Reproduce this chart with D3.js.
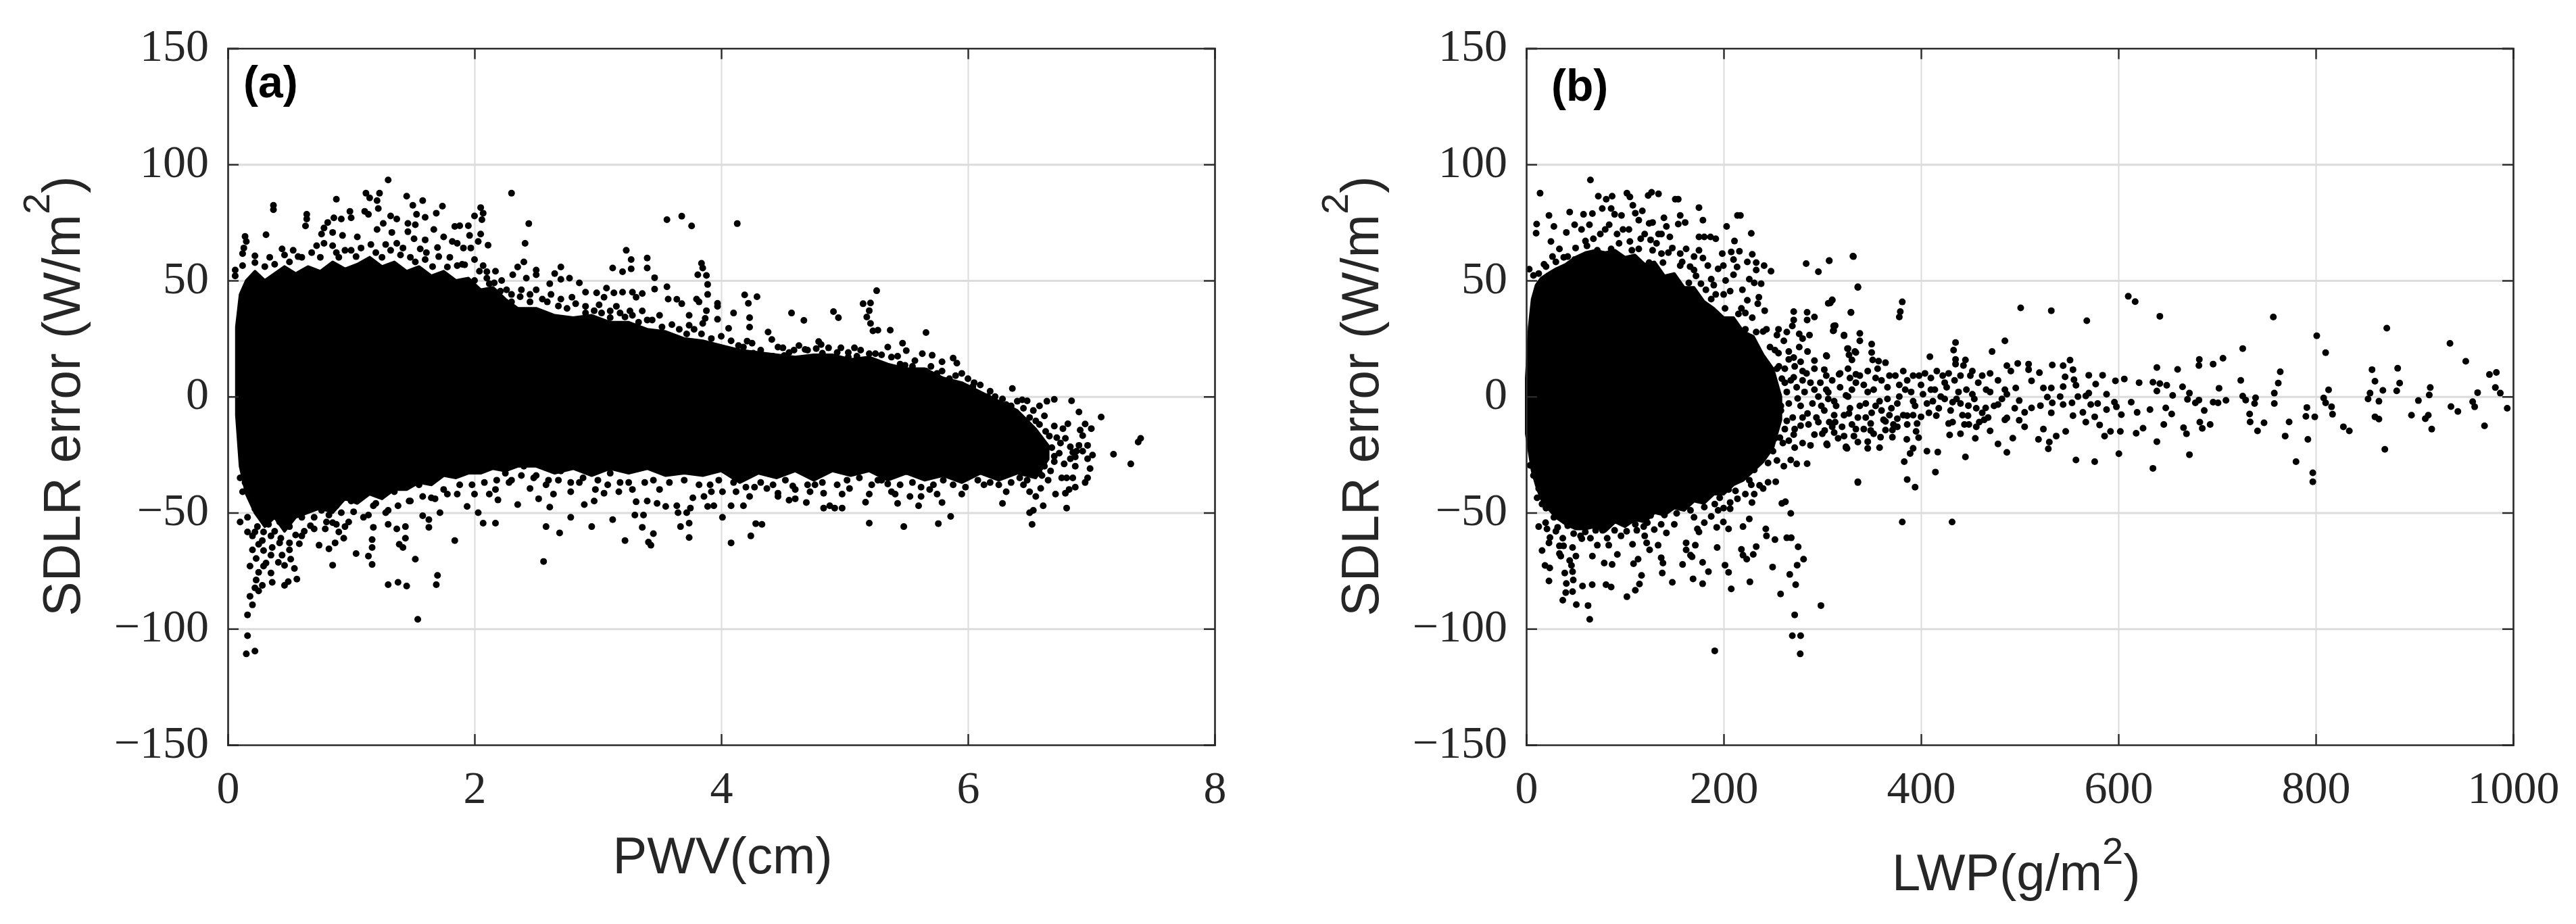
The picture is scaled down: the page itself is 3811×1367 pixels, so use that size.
<!DOCTYPE html>
<html>
<head>
<meta charset="utf-8">
<script src="https://cdn.jsdelivr.net/npm/d3@7"></script>
<style>
  body { margin: 0; background: #fff; }
  svg { display: block; }
</style>
</head>
<body>
<div id="chart"></div>
<script>
// tick labels
const errTicks = [-150, -100, -50, 0, 50, 100, 150];
const pwvTicks = [0, 2, 4, 6, 8];
const lwpTicks = [0, 200, 400, 600, 800, 1000];

// solid black part of each cloud, too dense to read single dots: x, top, bottom
const pwvCoreX = [0.07, 0.1, 0.15, 0.22, 0.3, 0.38, 0.46, 0.55, 0.65, 0.75, 0.85, 0.95, 1.05, 1.15, 1.25, 1.35, 1.45, 1.55, 1.65, 1.75, 1.85, 1.95, 2.05, 2.15, 2.25, 2.35, 2.5, 2.65, 2.8, 2.95, 3.1, 3.25, 3.4, 3.55, 3.7, 3.85, 4, 4.15, 4.3, 4.45, 4.6, 4.75, 4.9, 5.05, 5.2, 5.35, 5.5, 5.65, 5.8, 5.95, 6.1, 6.25, 6.4, 6.55, 6.65];
const pwvCoreHigh = [30, 44, 50, 54, 50, 53, 56, 53, 56, 54, 58, 55, 57, 60, 56, 58, 54, 56, 52, 54, 50, 51, 46, 47, 42, 38, 38, 35, 34, 35, 32, 32, 29, 28, 25, 24, 22, 20, 19, 18, 17, 18, 18, 16, 17, 14, 12, 12, 8, 6, 2, -2, -6, -14, -21];
const pwvCoreLow = [-8, -30, -42, -50, -56, -52, -58, -52, -50, -48, -50, -44, -46, -42, -44, -40, -40, -37, -38, -34, -35, -33, -33, -31, -32, -30, -30, -33, -31, -34, -31, -33, -31, -34, -33, -34, -32, -37, -33, -35, -32, -36, -32, -34, -32, -36, -33, -36, -34, -37, -33, -36, -33, -35, -27];

const lwpCoreX = [0, 3, 6, 10, 15, 22, 30, 40, 50, 60, 70, 80, 90, 100, 110, 120, 130, 140, 150, 160, 170, 180, 190, 200, 210, 220, 230, 240, 250, 258];
const lwpCoreHigh = [8, 30, 42, 48, 51, 53, 55, 57, 60, 62, 63, 62, 63, 60, 61, 57, 58, 52, 53, 47, 47, 41, 38, 34, 34, 28, 26, 18, 12, 0];
const lwpCoreLow = [-16, -24, -32, -38, -44, -48, -52, -55, -57, -57, -56, -58, -54, -56, -53, -54, -50, -51, -48, -49, -45, -46, -42, -42, -38, -36, -32, -28, -22, -10];

// single dots
const pwvUpper = [[1.3,93.3],[2.3,87.6],[3.56,76.2],[3.68,77.7],[3.76,73.5],[4.13,74.5],[0.37,82.4],[0.37,80.5],[0.88,85],[1.12,87.6],[1.15,85.6],[1.23,87.6],[1.21,84.4],[1.22,81],[1.11,79.8],[1.14,78.5],[1.45,86.3],[1.58,84.4],[1.5,82.4],[1.53,78.5],[1.6,77.2],[1.74,82],[1.69,79],[2.05,81.4],[2.07,79],[2,77.8],[2.06,76.2],[2.44,74.5],[2.41,66],[0.64,78.5],[0.64,76.5],[0.63,73.5],[0.31,69.7],[0.14,69],[0.15,66.8],[0.13,64],[0.12,61.6],[0.22,60.6],[0.22,57.7],[0.12,56.4],[0.06,54.5],[0.06,52],[0.44,63.6],[0.46,61],[0.53,63],[0.57,60.3],[0.38,57],[0.78,72.6],[0.81,75],[0.86,77],[0.92,76.5],[0.99,79.8],[1,77],[0.76,70],[0.85,70.7],[0.93,69.4],[1.05,68.8],[0.78,66],[0.85,65],[0.88,62],[0.95,63],[1.04,60.3],[1.16,65.5],[1.21,72],[1.26,74.6],[1.32,77.8],[1.37,76.5],[1.33,70.7],[1.46,74.6],[1.52,74],[1.46,71],[1.51,68],[1.6,67.5],[1.67,72],[1.75,68.8],[1.84,73.3],[1.88,73.6],[1.95,73.6],[1.96,69.4],[2.05,70],[2.03,66.8],[2.11,65.2],[1.82,66.8],[1.86,66],[1.91,64],[1.97,64],[1.7,64.2],[1.71,60.3],[1.56,63.6],[1.61,62],[1.42,64],[1.37,66],[1.28,65.5],[1.32,63],[2,59],[2.07,56.4],[2.17,54],[2.1,53.8],[1.78,55.8],[1.86,56.4],[1.92,56.8],[2.35,55.8],[2.4,58],[2.31,52.5],[2.5,54.5],[2.5,52.5],[2.7,55.8],[2.65,53],[2.42,51],[2.7,50.5],[2.77,51],[2.85,49],[2.9,45],[2.61,48.6],[2.5,46],[2.38,46],[2.22,50],[2.12,48.6],[2.21,45.4],[3.23,63],[3.27,59],[3.27,55],[3.12,55.4],[3.2,53.8],[3.4,59.7],[3.4,55.4],[3.46,51.2],[3.56,47.3],[3.46,46.3],[3.07,46.7],[2.99,44.7],[3.13,44.7],[3.2,45],[3.28,45],[3.36,44.4],[3.31,42.8],[3.57,42],[3.05,42.8],[2.9,38.9],[3.01,39.5],[3.15,38.9],[2.79,42.8],[2.7,42],[2.59,40.8],[2.45,40.8],[2.3,40.8],[3.36,36.9],[3.26,36.9],[3.5,35],[3.4,33],[3.22,34.3],[3.1,36.9],[3.84,57.4],[3.85,55.4],[3.81,52.5],[3.88,52.2],[3.89,48.3],[3.89,44],[3.8,42],[3.82,40.8],[3.64,41.9],[3.68,40],[3.97,40.2],[3.97,38.9],[3.88,37],[3.74,35],[4.1,36],[4.19,43.8],[4.22,40.2],[4.29,43],[4.23,34],[3.97,33.3],[3.87,33.7],[3.74,30.7],[3.85,31.5],[4.06,29.4],[4.23,29.9],[4.57,36],[4.67,32.8],[4.91,36.6],[4.95,34],[5.26,45.6],[5.15,40],[5.21,40.3],[5.2,37],[5.18,34.3],[5.21,31.5],[5.23,28.3],[5.27,28.6],[5.37,28.6],[5.66,27.6],[4.38,27.8],[4.41,24.6],[4.46,21.3],[4.21,23.9],[4.18,21.3],[4.08,19.8],[4.26,18.7],[4.59,20],[4.68,20.3],[4.79,23.7],[4.81,22.4],[4.77,20.7],[4.82,18.7],[4.72,15.5],[4.51,17.7],[4.42,17.4],[4.34,16.4],[4.94,19],[5.08,21],[5.03,17],[5.1,17.4],[5.2,18.5],[5.25,18.5],[5.35,21.3],[5.47,23],[5.5,19.8],[5.43,17.4],[5.49,13.5],[5.63,18.5],[5.57,15.5],[5.71,17.8],[5.79,15],[5.88,16.6],[5.91,14.4],[5.66,11],[5.79,11],[5.85,7.7],[6,7.7],[6.04,4.4],[6.18,2.3],[6.36,3.5],[6.44,-1.4],[6.48,-1.8],[6.64,-2],[6.7,-1.2],[6.84,-1.8],[6.58,-4],[6.31,-3.4],[6.9,-6.6],[7.08,-8.8],[6.62,-8.3],[6.55,-10.5],[6.7,-12.7],[6.81,-11.7],[6.77,-13.8],[6.95,-11.8],[7,-13.8],[6.91,-14.4],[6.93,-16.8],[6.66,-17],[6.72,-17.7],[6.79,-18],[6.9,-21],[6.97,-21],[7.4,-18],[7.38,-19.6],[7.18,-24.8],[7.01,-25.2],[7.32,-29],[6.93,-23.5],[6.83,-21.6],[6.85,-24],[6.88,-23.5],[6.74,-24.4],[6.7,-25.7],[6.62,-23.8],[6.59,-26.8],[6.97,-26.8],[6.83,-26.8],[6.67,-32]];

// the busy band around the edge of the solid part of (a)
const pwvFringe = [[0.3,56],[0.34,60],[0.5,58],[0.6,60],[0.68,62],[0.72,65],[0.75,60],[0.9,60],[1,63],[1.08,64],[1.2,62],[1.25,60],[1.4,61],[1.48,60],[1.52,58],[1.6,59],[1.66,56],[1.8,60],[1.9,57],[2.04,54],[2,50],[2.1,51],[2.16,49],[2.26,46],[2.3,44],[2.37,43],[2.45,44],[2.55,42],[2.62,44],[2.68,39],[2.75,38],[2.82,40],[2.9,36],[2.97,37],[3.03,36],[3.1,34],[3.18,36],[3.28,35],[3.33,32],[3.44,33],[3.52,30],[3.6,31],[3.66,29],[3.72,27],[3.78,29],[3.84,27],[3.92,25],[4,26],[4.08,24],[4.14,22],[4.25,23],[4.32,20],[4.5,21],[4.55,19],[4.63,22],[4.7,20],[4.87,21],[4.97,21],[5.03,19],[5.13,20],[5.3,18],[5.38,17],[5.45,14],[5.55,13],[5.7,13],[5.75,10],[5.9,9],[5.95,10],[6.05,6],[6.1,5],[6.16,0],[6.22,0],[6.28,-1],[6.35,-4],[6.4,-2],[6.45,-5],[6.5,-9],[6.53,-6],[6.58,-12],[6.63,-15],[6.6,-20],[6.68,-22],[6.7,-28],[6.75,-20],[6.78,-29],[6.62,-30],[6.58,-33],[6.52,-30],[6.48,-36],[6.42,-35],[6.35,-37],[6.25,-38],[6.18,-37],[6.08,-36],[5.98,-39],[5.88,-38],[5.8,-36],[5.72,-38],[5.62,-39],[5.55,-37],[5.45,-38],[5.38,-41],[5.3,-36],[5.22,-38],[5.12,-35],[5.02,-36],[4.94,-38],[4.82,-37],[4.72,-41],[4.6,-40],[4.52,-36],[4.42,-38],[4.32,-37],[4.2,-39],[4.1,-37],[3.98,-36],[3.92,-41],[3.82,-38],[3.7,-36],[3.58,-37],[3.5,-40],[3.38,-37],[3.28,-40],[3.18,-37],[3.08,-38],[2.98,-40],[2.88,-35],[2.78,-37],[2.68,-36],[2.58,-38],[2.48,-35],[2.38,-34],[2.28,-37],[2.18,-36],[2.08,-37],[1.98,-38],[1.88,-38],[1.78,-42],[1.68,-44],[1.58,-43],[1.48,-45],[1.38,-47],[1.28,-50],[1.18,-47],[1.1,-52],[0.98,-54],[0.88,-55],[0.8,-54],[0.7,-57],[0.6,-60],[0.5,-66],[0.42,-63],[0.35,-60],[0.28,-62],[0.24,-56],[0.2,-60],[0.16,-52],[0.12,-41]];

const pwvLower = [[0.15,-110.8],[0.22,-109.6],[0.16,-103],[0.16,-94],[0.2,-89.7],[0.18,-86],[1.54,-95.9],[1.69,-81],[1.7,-77],[1.45,-81.6],[1.38,-80],[1.3,-81],[0.56,-78.6],[0.49,-79.7],[0.46,-81.3],[0.36,-80],[0.28,-81.3],[0.25,-83.7],[0.22,-82.4],[0.23,-79],[0.25,-75.7],[0.35,-76],[0.29,-73],[0.18,-73],[0.23,-69.7],[0.31,-71.7],[0.41,-71.4],[0.46,-72.7],[0.54,-74],[0.51,-70],[0.44,-68.3],[0.35,-68.3],[0.29,-66.3],[0.2,-66],[0.25,-63.6],[0.36,-65],[0.85,-72.6],[1.04,-67.6],[1.14,-68.7],[1.17,-72.3],[1.52,-70],[2.56,-71],[1.84,-62],[1.42,-65],[1.39,-63.6],[1.44,-61],[1.17,-65],[1.17,-61.6],[0.82,-65.6],[0.74,-64],[0.87,-63],[0.94,-61],[0.58,-63.4],[0.5,-63],[0.1,-54],[0.16,-58.3],[0.22,-58.3],[0.29,-58.3],[0.43,-61],[0.55,-59.6],[0.67,-55.6],[0.79,-57],[0.9,-58.3],[0.95,-56],[0.85,-54.3],[1.18,-56.3],[1.3,-55],[1.37,-57],[1.44,-56],[1.63,-56.3],[1.63,-53],[1.58,-51.3],[1.72,-50],[2.07,-54.5],[2.17,-54.5],[2.03,-50],[1.94,-47.3],[2.58,-56],[2.69,-58.7],[2.78,-52],[2.95,-56],[3.12,-53],[3.22,-62],[3.36,-56.3],[3.45,-59],[3.41,-62.7],[3.43,-64],[3.3,-51],[3.37,-51],[2.35,-46.5],[2.61,-47.6],[2.19,-44.5],[2.12,-42],[2,-42],[1.86,-42],[2.52,-44],[2.89,-46.5],[2.97,-45],[3.31,-45.3],[3.4,-45],[3.48,-46],[3.55,-47.3],[2.17,-40],[2.45,-39.6],[2.64,-42],[2.78,-41],[3.05,-41.6],[3.17,-41],[1.3,-49],[1.14,-51],[1.02,-49.6],[0.92,-50],[0.76,-49],[0.6,-52],[0.46,-50],[0.29,-51],[0.22,-48.3],[0.1,-35],[0.14,-37],[1.47,-45],[1.65,-43.6],[1.75,-40],[0.33,-55],[0.38,-58],[0.42,-54],[0.5,-56],[0.55,-50],[0.62,-58],[0.7,-52],[0.75,-46],[0.82,-51],[0.88,-47],[1,-45],[1.08,-43],[1.2,-46],[1.25,-42],[1.35,-41],[1.55,-38],[2.25,-33],[2.3,-36],[2.4,-30],[2.5,-34],[2.6,-36],[2.7,-32],[2.85,-37],[2.9,-31],[3,-36],[3.1,-33],[3.25,-37],[3.3,-31],[3.45,-36],[3.55,-33],[6.87,-26],[6.87,-30],[6.99,-31],[6.97,-35],[6.95,-37],[6.85,-35],[6.76,-35],[6.8,-35],[6.87,-39],[6.82,-40],[6.79,-41.6],[6.71,-42],[6.8,-48],[6.61,-47],[6.52,-55],[6.5,-50],[6.53,-49],[6.55,-43],[6.5,-41],[6.31,-41],[6.28,-46],[6.65,-36],[6.59,-39.5],[6.6,-34],[6.45,-38],[6.13,-38],[5.95,-42],[5.86,-51.6],[5.76,-54.7],[5.79,-45.6],[5.75,-42],[5.69,-40],[5.62,-43],[5.6,-47],[5.48,-56],[5.2,-54.5],[5.43,-46],[5.17,-45.5],[5.2,-42],[5.53,-43],[5.41,-42],[5.27,-36],[5.35,-37.6],[5.04,-39.6],[4.98,-42],[4.98,-48],[4.92,-48],[4.88,-47],[4.83,-48],[4.83,-41.6],[4.69,-45.6],[4.6,-44],[4.55,-44.6],[4.46,-43],[4.46,-41.6],[4.7,-38],[4.76,-38],[4.58,-38.5],[4.33,-55],[4.28,-54.7],[4.24,-60],[4.08,-63],[4.01,-52],[4.18,-47],[4.08,-47],[3.94,-47],[3.89,-47.3],[4.23,-43],[4.12,-41],[4.01,-41],[4.37,-39.6],[4.27,-39],[3.74,-60.7],[3.74,-54.5],[3.67,-56],[3.75,-48],[3.65,-50],[3.72,-50],[3.77,-43.6],[3.64,-47],[3.91,-38],[3.86,-43]];

const lwpUpper = [[65,93.3],[14,87.6],[73,86.3],[81,85],[87,86.3],[102,87.6],[105,86],[108,82.4],[123.5,86.6],[127,88],[134,87.3],[151,85],[154,85],[175,81.4],[179,76],[214,78],[217,78],[203,73.3],[228,70.3],[211,67],[23,78],[44,79.5],[10.5,74.3],[10,70.4],[28,73.3],[25,66.8],[40.6,70.7],[49,74],[58,78.5],[67,78.8],[77,81],[89.5,78.5],[86,81],[96.5,78],[110.5,79],[117.6,80],[114,76],[124.5,74.6],[128,75],[139.5,77],[142,73.3],[145.5,68.8],[137,70],[156,78],[154,74.3],[161,75],[175,68.8],[180.4,68.8],[186.7,68.8],[192,68],[126,67.5],[61.5,64.9],[33.6,63.6],[26.6,60.3],[18,57],[3,54.9],[7.3,52.2],[12.6,53],[42,60.3],[49,59],[72,63],[86,63.6],[105,66.8],[107,63],[114,63.6],[128,63],[137,61.6],[162,63.6],[156,61.6],[175,63],[170,60.3],[179,59.7],[198.6,61.6],[207.7,62.3],[216,62.6],[229,61.3],[210,59],[224,58],[233,57.7],[241,56.4],[248,54],[233,54.5],[213.6,55.8],[199.7,56.4],[194.4,55],[184,56.4],[170,54.5],[156,56.4],[138.5,57.7],[124.5,57.7],[210,52.5],[226,50.6],[238,48.6],[231,49],[202,50],[187.4,50.6],[177,48.6],[164.7,49],[149,50],[219,46],[206.6,45.4],[224,41.5],[235.7,42.8],[234.6,40],[241.6,37],[215,35.6],[222,36],[201.4,38],[187.4,42],[170,40.8],[283.6,57.3],[296,53.8],[307,58.6],[331.5,60.3],[336,47.3],[310,41.5],[306,40.2],[329,36.3],[284.6,36.3],[292,34.3],[271,36.6],[271,33],[284.6,33],[269.6,30.4],[311.5,30.4],[311.5,28.5],[287,26.5],[322,26.5],[276.6,27],[264,27.8],[255.6,29],[243.4,29],[233,27.8],[222,29],[212,29],[201.4,29],[254,26.5],[280,25],[325.5,20.7],[333,19.4],[285,19.4],[271,16.8],[304.5,17.4],[292,15.5],[302,11.6],[261,24],[247,21.3],[255.6,18.7],[266,19.4],[276.6,21.3],[254,12],[317,9.6],[310,7],[334,9.6],[280,7],[292,3],[259,7.7],[271,8.3],[306,1.8],[324,0.5],[275,-0.8],[255.6,0.5],[299,-4],[285,-7.3],[313,-11],[327,-7.3],[278,-12.5],[264,-10.5],[304.5,-20.3],[324,-21.6],[292,-16.4],[271,-16.4],[257,-17.7],[243.4,-13.8],[20,56],[30,58],[38,60],[50,64],[60,67],[68,68],[75,70],[80,72],[92,70],[98,72],[116,68],[132,66],[144,62],[158,58],[172,52],[182,46],[192,44],[218,38],[229,34],[240,28],[252,20],[256,13],[262,6],[258,-4],[250,-6],[244,-16],[56,72],[64,74],[84,74],[94,66],[104,72],[120,70],[134,70],[148,64],[166,56],[190,48],[200,44]];

const lwpLower = [[191,-109.5],[277.6,-110.8],[269.6,-103],[278,-103],[272,-94],[298.6,-90],[257.7,-85],[273,-81],[267,-76.6],[274.5,-72.6],[281,-70],[275.5,-64.7],[268,-50.3],[264,-60.8],[268.5,-60.8],[252,-61.6],[249.6,-73.4],[242.7,-57],[243.4,-60],[226,-52.7],[219.6,-56],[218,-65.8],[233,-64.6],[230,-68],[219.6,-68.3],[223.4,-70],[226.6,-79.8],[207.7,-82.8],[205,-75.7],[201.4,-72.6],[193.4,-65],[193,-56.3],[199.7,-54],[205,-57],[184.6,-75.4],[178.7,-80.6],[178.7,-71.4],[169,-78.5],[158.4,-72.3],[168,-69],[166.4,-68.3],[162,-66],[162,-63],[171.3,-64],[148,-80],[137.8,-76],[138.5,-71.7],[136.7,-69.4],[133.6,-64],[125,-66],[122,-63],[113.3,-70],[108.7,-72],[107.7,-63.6],[116.8,-77],[114.7,-80.7],[110.5,-83.4],[102,-86.2],[92.3,-68],[87,-72.3],[79,-71.7],[83.6,-64],[86,-82],[80.8,-81],[66.8,-81],[67,-68.7],[62.6,-90],[64.3,-95.9],[50.7,-89.6],[57,-81.6],[46.9,-84],[40,-84.4],[37,-87.7],[47.6,-79],[40.6,-80.5],[39,-76],[46.9,-75.4],[45.8,-72.7],[44,-70.6],[50.3,-68.7],[23,-79.4],[23.8,-73.8],[19,-72.7],[16,-66.3],[33.6,-67.6],[35,-68.7],[33.6,-64.3],[37.8,-64.3],[46.9,-65],[23,-63],[24,-60.7],[12.6,-56],[19.6,-54.3],[21,-57],[37,-61],[56.3,-61.2],[65,-61],[72,-64],[31.8,-56.3],[42,-55.6],[59.8,-58.3],[70.3,-57.6],[77.3,-57.6],[89.5,-57.6],[101.7,-58],[101.7,-53.6],[112,-57.6],[110.5,-55],[119,-56],[122.7,-54.3],[129.7,-57.3],[136.7,-55],[142,-58.7],[152.4,-50.3],[140,-51],[126,-51.2],[173.4,-57],[175,-58.3],[180.4,-54.3],[187.4,-51.6],[194.4,-49],[206.6,-45.6],[206.6,-48.3],[228.7,-45.6],[222,-42],[231,-42],[259,-46],[262.6,-45.3],[336,-36.7],[252.8,-36.7],[236.4,-38.2],[245,-36.9],[240,-39.6],[217,-35.6],[212,-40.6],[284.6,-28.9],[274,-29],[268,-27.3],[261,-30],[254,-27.5],[245,-28.6],[250,-23.5],[231,-31.6],[304.5,-20.6],[324,-22],[12.6,-39.6],[11,-43.6],[16,-46.3],[7.3,-34],[3.8,-29.6],[180.4,-47.6],[166.4,-49],[147,-47.6],[154,-47],[138.5,-47],[191,-46.3],[163,-42],[182,-43],[196,-43.6],[205,-40],[216,-30],[226,-36],[238,-26],[246,-20],[252,-18],[96,-60],[82,-61],[55,-60],[48,-59],[28,-52],[20,-48],[30,-58],[120,-60],[150,-55],[170,-52],[200,-48],[214,-44],[228,-38]];

const lwpTail = [[331,60.5],[307,58.5],[336,47],[381,40.8],[379,36.6],[378,34.3],[310,41.7],[308,40.3],[329,36.2],[313,30.6],[311,28.3],[322,26.2],[338,27.2],[338,24],[350,22.6],[326,20.7],[334,19],[350,19],[304,17.7],[327,18],[330,15.8],[351,15.8],[357,15.3],[364,14.6],[501,38.2],[532,37],[568,32.7],[610,43.2],[617,40.9],[642,34.6],[757,34.3],[801,26.2],[872,29.5],[936,22.9],[952,15.2],[810,18.9],[726,20.7],[706,16.5],[696,14],[682,16],[681.6,13.4],[660,11.7],[639,12.5],[435,23.3],[433,20],[472,19.4],[485,24],[409,17.2],[435,16],[445,15.8],[443,13.4],[435,14],[498,14.3],[509,14],[509,11.6],[487,13.3],[491,11],[533,13.6],[544,13.3],[551,15.7],[554,11.6],[520,10.3],[570,9.2],[584,9.2],[546,8.5],[764,10.7],[857,11.6],[883,12.2],[976,9.5],[983,10.4],[724,7],[762,5.8],[860,6.6],[885,5.8],[916,3.9],[982,3.9],[813,2.9],[868,2.7],[882,2.5],[987,1.5],[964,1.7],[915,0.7],[855,1.5],[853,-1],[864,-2],[758,1.5],[726,0.2],[739,-0.5],[729,-1.5],[758,-3],[738,-3],[808,-0.6],[810,-2.7],[816,-4.4],[904,-1.7],[959,-2.2],[961,-4.4],[994,-5],[937,-4.3],[944,-6.4],[709,-1.6],[701,-2.7],[696,-2.4],[681.6,-1.5],[678,-2.7],[670,-1.2],[672,1.5],[665,4.2],[702,3.6],[655,0.5],[649,4.9],[639,2.4],[642,5.6],[635,6.2],[621,6],[606,7.6],[597,6.8],[577,5.4],[555,7.3],[557,4.9],[544,4.3],[532,3.7],[524,3.7],[512,6.8],[588,1],[596,-2.4],[598,-4.4],[613,-2.4],[570,1.5],[567,0.3],[559,0],[541,0],[528,-0.2],[499.5,-1.7],[487,1],[485,3],[496,3.7],[579,-3],[572,-3.4],[553,-2.7],[544,-3.4],[533,-2.7],[521,-3.9],[512,-4.9],[495,-5],[588,-5.6],[564,-6.8],[532,-7],[505,-6.8],[478,-3.4],[465.5,-4.9],[448,-3.9],[432,-2.4],[632,-5.6],[619,-6.8],[603,-7.8],[648,-4.9],[654,-7.5],[687,-6],[733,-7.5],[791,-4.7],[790,-8.5],[799,-8.7],[817,-7.6],[860,-8.7],[864,-9.7],[897,-8],[914,-8],[911,-9.5],[733.5,-10.9],[747.6,-11.3],[773,-10.9],[828,-13],[834,-14.8],[917.5,-14],[971,-12.6],[741,-14.8],[769,-17],[792,-18.4],[646,-12],[666,-13.4],[669,-16],[682.5,-11],[693,-12],[685,-13.7],[625,-13.6],[618,-15.8],[602,-15],[592,-15],[586,-17],[581,-12.2],[576,-8.7],[567,-11],[554,-8.2],[546.6,-15],[537,-17],[524,-14],[519,-18.4],[530,-19.6],[529,-22.5],[493,-17.9],[505,-13],[499.5,-10.2],[487,-9.2],[485,-10],[470,-14.8],[478,-20.4],[487,-24],[455,-18],[440,-16],[429,-16.5],[428,-11.6],[445,-26],[406,-23.5],[417,-23.9],[414.6,-32.5],[392,-22.3],[389,-24.5],[383,-28],[386,-35.7],[394,-39],[336,-37],[381,-54],[431.5,-54],[557,-27.3],[576,-28],[600.5,-24.6],[639,-19.4],[635,-30.9],[672,-25],[780,-28],[797,-32.8],[797,-36.7],[870,-22.7],[358,-22],[346,-22.3],[336,-19.6],[325,-22.3],[305,-20.9],[385.6,-18.4],[397.6,-17.7],[395,-15],[400,-8.7],[371,-17.5],[359,-17.5],[346,-19.4],[322,-17],[364,-14.4],[371,-14.4],[349,-14.6],[334,-14],[307,-11],[312,-15.5],[302.4,-14.6],[349,-11.6],[364,-10.7],[376,-9.5],[386,-8.2],[396,-11.6],[415.5,-8.2],[447.6,-8.2],[464,-10],[448.5,-12],[459,-11]];

// thick knot of dots in (b) between 255 and 480, where they merge
const lwpKnot = [[258,-6],[262,-14],[266,-3],[270,-9],[274,4],[278,-4],[282,2],[286,-12],[290,-3],[294,-9],[298,6],[302,-6],[306,-1],[310,-13],[314,-4],[318,4],[322,-8],[326,0],[330,-12],[334,6],[338,-4],[342,-14],[346,2],[350,-7],[354,8],[358,-2],[362,-10],[366,4],[370,-5],[374,9],[378,0],[382,-8],[386,7],[390,2],[394,-4],[398,9],[402,1],[406,-3],[410,8],[414,3],[418,-5],[422,9],[426,4],[430,-6],[434,7],[438,2],[442,-8],[446,3],[450,9],[454,-1],[458,6],[462,-7],[466,3],[470,10],[474,-4],[478,7],[482,-1],[318,10],[326,12],[338,9],[346,11],[356,12],[368,9],[382,11],[392,9],[404,10],[416,11],[428,10],[440,9],[452,11],[462,9],[304,9],[292,12],[280,11],[268,7],[312,-8],[328,-5],[344,-9],[360,-6],[376,-3],[392,-2],[408,-7],[424,-1],[440,-3],[456,-5],[300,-16],[316,-18],[332,-17],[352,-16],[372,-12],[386,-12],[330,3],[342,5],[354,-4],[366,-1],[378,5],[410,3],[420,0],[436,-1],[452,1],[470,2],[262,12],[266,16],[272,13],[278,15],[284,10],[260,-20],[266,-19],[272,-22],[280,-20],[288,-21],[296,-11],[264,2],[272,-14],[280,-9],[288,6],[296,0],[304,3],[312,-2],[320,-13],[328,8],[336,-9],[344,-3],[352,3],[360,7],[368,-8],[376,-13],[384,3],[392,-8],[400,5],[412,-2],[424,6],[432,-11],[444,-12],[456,-13],[468,-9]];

const margin = {top: 71.5, bottom: 1102};
const pwvRange = [337, 1797];
const lwpRange = [2258, 3718];

const svg = d3.select("#chart").append("svg")
  .attr("width", 3811)
  .attr("height", 1367)
  .style("background", "#fff");

const y = d3.scaleLinear().domain([-150, 150]).range([margin.bottom, margin.top]);
const xPwv = d3.scaleLinear().domain([0, 8]).range(pwvRange);
const xLwp = d3.scaleLinear().domain([0, 1000]).range(lwpRange);

function drawPanel(x, xTicks, coreX, coreHigh, coreLow, dotSets) {
  const [left, right] = x.range();
  const g = svg.append("g");
  const h = margin.bottom - margin.top;
  const w = right - left;

  // grid
  const gridX = g.append("g").attr("transform", `translate(0,${margin.bottom})`)
    .call(d3.axisBottom(x).tickValues(xTicks.slice(1, -1)).tickSize(-h).tickFormat(""));
  const gridY = g.append("g").attr("transform", `translate(${left},0)`)
    .call(d3.axisLeft(y).tickValues(errTicks.slice(1, -1)).tickSize(-w).tickFormat(""));
  [gridX, gridY].forEach(a => {
    a.select(".domain").remove();
    a.selectAll("line").attr("stroke", "#dcdcdc");
  });
  gridX.selectAll("line").attr("stroke-width", 2);
  gridY.selectAll("line").attr("stroke-width", 3);

  // solid part of the cloud
  const core = coreX.map((d, i) => ({x: d, hi: coreHigh[i], lo: coreLow[i]}));
  g.append("path")
    .datum(core)
    .attr("fill", "#000")
    .attr("stroke", "#000")
    .attr("stroke-width", 4)
    .attr("stroke-linejoin", "round")
    .attr("d", d3.area().x(d => x(d.x)).y0(d => y(d.lo)).y1(d => y(d.hi)));

  // dots
  dotSets.forEach(set => {
    g.append("g").selectAll("circle")
      .data(set)
      .enter().append("circle")
        .attr("r", 5)
        .attr("cx", d => x(d[0]))
        .attr("cy", d => y(d[1]))
        .attr("fill", "#000");
  });

  // box with inward ticks on all four sides
  const bottom = g.append("g").attr("transform", `translate(0,${margin.bottom})`)
    .call(d3.axisBottom(x).tickValues(xTicks).tickSize(-16).tickPadding(86).tickFormat(d3.format("d")));
  const top = g.append("g").attr("transform", `translate(0,${margin.top})`)
    .call(d3.axisTop(x).tickValues(xTicks).tickSize(-16).tickFormat(""));
  const leftAxis = g.append("g").attr("transform", `translate(${left},0)`)
    .call(d3.axisLeft(y).tickValues(errTicks).tickSize(-16).tickPadding(28));
  const rightAxis = g.append("g").attr("transform", `translate(${right},0)`)
    .call(d3.axisRight(y).tickValues(errTicks).tickSize(-16).tickFormat(""));

  [bottom, top, leftAxis, rightAxis].forEach(a => {
    a.select(".domain").attr("stroke", "#2a2a2a").attr("stroke-width", 2.6);
    a.selectAll("line").attr("stroke", "#2a2a2a").attr("stroke-width", 2.4);
    a.selectAll("text")
      .attr("fill", "#262626")
      .style("font-family", "'Liberation Serif', serif")
      .style("font-size", "68px");
  });
  bottom.selectAll("text").attr("dy", 0);
  leftAxis.selectAll("text").attr("dy", 18);
  return g;
}

drawPanel(xPwv, pwvTicks, pwvCoreX, pwvCoreHigh, pwvCoreLow, [pwvUpper, pwvFringe, pwvLower]);
drawPanel(xLwp, lwpTicks, lwpCoreX, lwpCoreHigh, lwpCoreLow, [lwpUpper, lwpLower, lwpTail, lwpKnot]);

// labels
const sans = "'Liberation Sans', Arial, sans-serif";

function yLabel(xPos) {
  const t = svg.append("text")
    .attr("transform", `translate(${xPos},586) rotate(-90)`)
    .attr("text-anchor", "middle")
    .attr("fill", "#262626")
    .style("font-family", sans)
    .style("font-size", "77px");
  t.append("tspan").text("SDLR error (W/m");
  t.append("tspan").attr("dy", -45).style("font-size", "56px").text("2");
  t.append("tspan").attr("dy", 45).text(")");
}
yLabel(118);
yLabel(2039);

svg.append("text")
  .attr("x", 1069).attr("y", 1292)
  .attr("text-anchor", "middle")
  .attr("fill", "#262626")
  .style("font-family", sans)
  .style("font-size", "76px")
  .text("PWV(cm)");

const lwpLabel = svg.append("text")
  .attr("x", 2799).attr("y", 1317)
  .attr("fill", "#262626")
  .style("font-family", sans)
  .style("font-size", "76px");
lwpLabel.append("tspan").text("LWP(g/m");
lwpLabel.append("tspan").attr("dy", -39).style("font-size", "56px").text("2");
lwpLabel.append("tspan").attr("dy", 39).text(")");

[["(a)", 360, 144], ["(b)", 2295, 149]].forEach(d => {
  svg.append("text")
    .attr("x", d[1]).attr("y", d[2])
    .attr("fill", "#000")
    .style("font-family", sans)
    .style("font-weight", "bold")
    .style("font-size", "66px")
    .text(d[0]);
});
</script>
</body>
</html>
